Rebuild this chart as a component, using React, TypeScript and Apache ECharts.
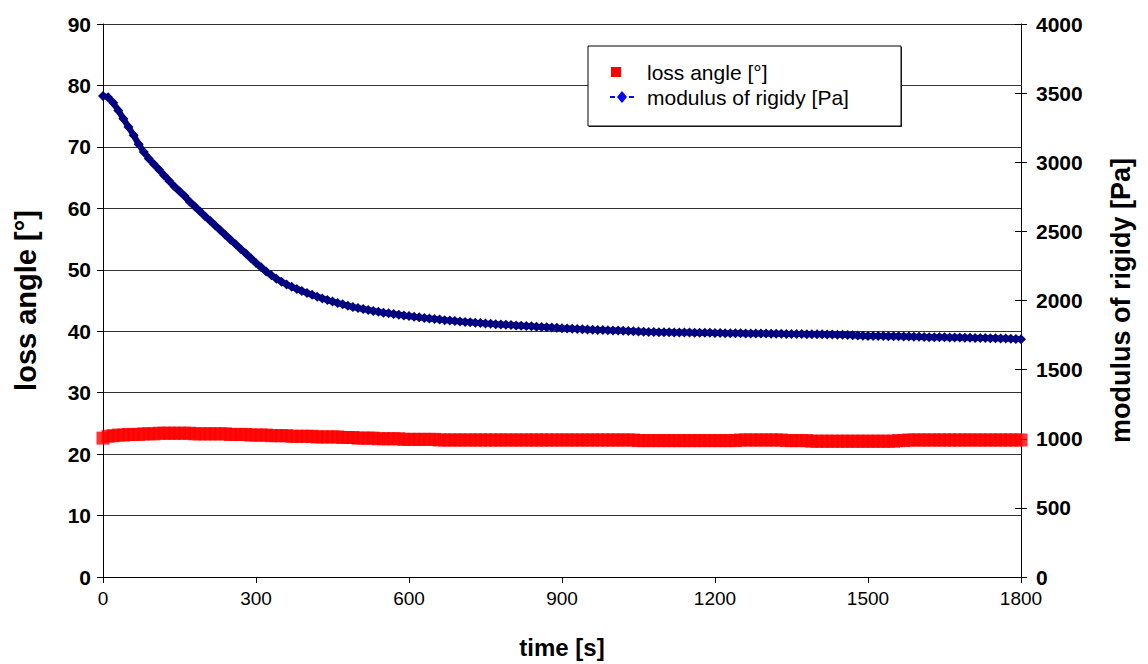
import React, { useEffect, useRef } from "react";
import * as echarts from "echarts";

// sampling step of the measurement, seconds
const timeStep = 10;

// loss angle [°], one reading every 10 s from t = 0 to 1800 s
const lossAngle: number[] = [
  22.6, 22.9, 23.0, 23.1, 23.1, 23.2, 23.2, 23.2, 23.3, 23.3, 23.3, 23.4, 23.4, 23.4, 23.4, 23.4,
  23.4, 23.4, 23.3, 23.3, 23.3, 23.3, 23.3, 23.3, 23.3, 23.2, 23.2, 23.2, 23.2, 23.1, 23.1,
  23.1, 23.1, 23.0, 23.0, 23.0, 23.0, 22.9, 22.9, 22.9, 22.9, 22.9, 22.8, 22.8, 22.8, 22.8,
  22.8, 22.7, 22.7, 22.7, 22.6, 22.6, 22.6, 22.6, 22.5, 22.5, 22.5, 22.5, 22.5, 22.4, 22.4,
  22.4, 22.4, 22.4, 22.4, 22.4, 22.3, 22.3, 22.3, 22.3, 22.3, 22.3, 22.3, 22.3, 22.3, 22.3,
  22.3, 22.3, 22.3, 22.3, 22.3, 22.3, 22.3, 22.3, 22.3, 22.3, 22.3, 22.3, 22.3, 22.3, 22.3,
  22.3, 22.3, 22.3, 22.3, 22.3, 22.3, 22.3, 22.3, 22.3, 22.3, 22.3, 22.3, 22.3, 22.3, 22.2,
  22.2, 22.2, 22.2, 22.2, 22.2, 22.2, 22.2, 22.2, 22.2, 22.2, 22.2, 22.2, 22.2, 22.2, 22.2,
  22.2, 22.2, 22.2, 22.2, 22.3, 22.3, 22.3, 22.3, 22.3, 22.3, 22.3, 22.3, 22.3, 22.2, 22.2,
  22.2, 22.2, 22.2, 22.1, 22.1, 22.1, 22.1, 22.1, 22.1, 22.1, 22.1, 22.1, 22.1, 22.1, 22.1,
  22.1, 22.1, 22.1, 22.1, 22.1, 22.2, 22.2, 22.3, 22.3, 22.3, 22.3, 22.3, 22.3, 22.3, 22.3,
  22.3, 22.3, 22.3, 22.3, 22.3, 22.3, 22.3, 22.3, 22.3, 22.3, 22.3, 22.3, 22.3, 22.3, 22.3,
];

// modulus of rigidity [Pa], one reading every 10 s from t = 0 to 1800 s
const modulus: number[] = [
  3480, 3470, 3430, 3375, 3315, 3255, 3195, 3130, 3075, 3025,
  2985, 2945, 2905, 2865, 2825, 2790, 2755, 2715, 2680, 2645,
  2610, 2576, 2542, 2508, 2474, 2440, 2406, 2373, 2340, 2306,
  2272, 2240, 2210, 2183, 2158, 2136, 2116, 2099, 2084, 2069,
  2055, 2041, 2028, 2015, 2003, 1992, 1982, 1972, 1962, 1953,
  1945, 1938, 1931, 1924, 1918, 1912, 1907, 1902, 1897, 1892,
  1887, 1883, 1878, 1874, 1870, 1866, 1862, 1858, 1855, 1851,
  1848, 1845, 1842, 1839, 1837, 1834, 1832, 1829, 1827, 1825,
  1822, 1820, 1818, 1815, 1813, 1811, 1809, 1807, 1805, 1802,
  1800, 1798, 1796, 1794, 1792, 1790, 1789, 1787, 1786, 1784,
  1783, 1783, 1782, 1780, 1778, 1776, 1774, 1772, 1772, 1771,
  1770, 1770, 1769, 1769, 1768, 1768, 1767, 1767, 1766, 1766,
  1765, 1765, 1764, 1764, 1763, 1763, 1762, 1762, 1762, 1761,
  1761, 1760, 1760, 1759, 1758, 1758, 1757, 1757, 1756, 1756,
  1755, 1755, 1754, 1754, 1753, 1752, 1750, 1748, 1746, 1745,
  1744, 1744, 1743, 1743, 1742, 1742, 1741, 1740, 1739, 1738,
  1737, 1736, 1735, 1735, 1734, 1734, 1733, 1733, 1732, 1731,
  1730, 1729, 1728, 1728, 1727, 1727, 1726, 1725, 1723, 1722,
  1720,
];

const xTicks = { min: 0, max: 1800, interval: 300 };
const leftTicks = { min: 0, max: 90, interval: 10 };
const rightTicks = { min: 0, max: 4000, interval: 500 };

const seriesNames = ["loss angle [°]", "modulus of rigidy [Pa]"];
const axisTitles = { x: "time [s]", left: "loss angle [°]", right: "modulus of rigidy [Pa]" };

const FONT = "'Liberation Sans', Arial, sans-serif";

export default function App() {
  const ref = useRef<HTMLDivElement>(null);

  useEffect(() => {
    if (!ref.current) return;
    const chart = echarts.init(ref.current, undefined, { renderer: "svg" });

    const lossData = lossAngle.map((v, i) => [i * timeStep, v]);
    const modData = modulus.map((v, i) => [i * timeStep, v]);
    const plain = (v: number) => String(v);

    const tickLabelBold = {
      color: "#000",
      fontFamily: FONT,
      fontWeight: "bold" as const,
      fontSize: 21,
      formatter: plain,
    };

    chart.setOption({
      animation: false,
      backgroundColor: "#fff",
      grid: { left: 103, right: 127, top: 24, bottom: 87, containLabel: false },
      xAxis: {
        type: "value",
        min: xTicks.min,
        max: xTicks.max,
        interval: xTicks.interval,
        name: axisTitles.x,
        nameLocation: "middle",
        nameGap: 58,
        nameTextStyle: { color: "#000", fontFamily: FONT, fontWeight: "bold", fontSize: 24 },
        axisLine: { show: true, lineStyle: { color: "#000", width: 1 } },
        axisTick: { show: true, length: 6, lineStyle: { color: "#000" } },
        axisLabel: { color: "#000", fontFamily: FONT, fontSize: 19, margin: 12, formatter: plain },
        splitLine: { show: false },
      },
      yAxis: [
        {
          type: "value",
          position: "left",
          min: leftTicks.min,
          max: leftTicks.max,
          interval: leftTicks.interval,
          name: axisTitles.left,
          nameLocation: "middle",
          nameRotate: 90,
          nameGap: 63,
          nameTextStyle: { color: "#000", fontFamily: FONT, fontWeight: "bold", fontSize: 29 },
          axisLine: { show: true, lineStyle: { color: "#000", width: 1 } },
          axisTick: { show: true, length: 6, lineStyle: { color: "#000" } },
          axisLabel: { ...tickLabelBold, margin: 12 },
          splitLine: { show: true, lineStyle: { color: "#333", width: 1 } },
        },
        {
          type: "value",
          position: "right",
          min: rightTicks.min,
          max: rightTicks.max,
          interval: rightTicks.interval,
          name: axisTitles.right,
          nameLocation: "middle",
          nameRotate: 90,
          nameGap: 86,
          nameTextStyle: { color: "#000", fontFamily: FONT, fontWeight: "bold", fontSize: 27 },
          axisLine: { show: true, lineStyle: { color: "#000", width: 1 } },
          axisTick: { show: true, length: 6, lineStyle: { color: "#000" } },
          axisLabel: { ...tickLabelBold, margin: 15 },
          splitLine: { show: false },
        },
        {
          type: "value",
          position: "right",
          min: rightTicks.min,
          max: rightTicks.max,
          interval: rightTicks.interval,
          axisLine: { show: false },
          axisTick: { show: true, inside: true, length: 6, lineStyle: { color: "#000" } },
          axisLabel: { show: false },
          splitLine: { show: false },
        },
      ],
      series: [
        {
          name: seriesNames[0],
          type: "scatter",
          yAxisIndex: 0,
          data: lossData,
          symbol: "rect",
          symbolSize: 13,
          itemStyle: { color: "#ff0000" },
          z: 2,
        },
        {
          name: seriesNames[1],
          type: "line",
          yAxisIndex: 1,
          data: modData,
          symbol: "diamond",
          symbolSize: 10,
          showSymbol: true,
          showAllSymbol: true,
          lineStyle: { color: "#000080", width: 6 },
          itemStyle: { color: "#000080" },
          z: 3,
        },
      ],
      graphic: [
        {
          type: "rect",
          shape: { x: 589, y: 47, width: 313, height: 80 },
          style: { fill: "#333" },
          z: 10,
        },
        {
          type: "rect",
          shape: { x: 588, y: 46, width: 313, height: 80 },
          style: { fill: "#fff", stroke: "#000", lineWidth: 1 },
          z: 11,
        },
        {
          type: "rect",
          shape: { x: 611, y: 67, width: 10, height: 10 },
          style: { fill: "#ff0000" },
          z: 12,
        },
        {
          type: "text",
          x: 647,
          y: 72,
          style: {
            text: seriesNames[0],
            fill: "#000",
            font: `21px ${FONT}`,
            verticalAlign: "middle",
            align: "left",
          },
          z: 12,
        },
        {
          type: "line",
          shape: { x1: 610, y1: 97, x2: 615, y2: 97 },
          style: { stroke: "#0000ff", lineWidth: 2 },
          z: 12,
        },
        {
          type: "line",
          shape: { x1: 629, y1: 97, x2: 634, y2: 97 },
          style: { stroke: "#0000ff", lineWidth: 2 },
          z: 12,
        },
        {
          type: "polygon",
          shape: { points: [[622, 91], [627, 97], [622, 103], [617, 97]] },
          style: { fill: "#0000ff" },
          z: 12,
        },
        {
          type: "text",
          x: 647,
          y: 97,
          style: {
            text: seriesNames[1],
            fill: "#000",
            font: `21px ${FONT}`,
            verticalAlign: "middle",
            align: "left",
          },
          z: 12,
        },
      ],
    });

    return () => chart.dispose();
  }, []);

  return (
    <div
      ref={ref}
      style={{ position: "absolute", left: 0, top: 0, width: 1148, height: 664 }}
    />
  );
}
